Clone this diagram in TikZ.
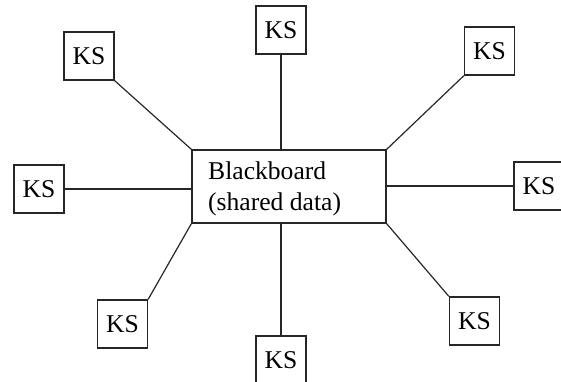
\documentclass[tikz,border=0pt]{standalone}
\usepackage{fontspec}
\setmainfont{Liberation Serif}
\begin{document}
\begin{tikzpicture}[x=1pt,y=-1pt,
  ksbox/.style={draw=black!85, line width=1.3pt, rectangle, minimum width=50pt, minimum height=48pt, inner sep=0pt, font=\fontsize{25.6}{30.7}\selectfont},
  bbbox/.style={draw=black!85, line width=1.3pt, rectangle, minimum width=194pt, minimum height=73pt, inner sep=0pt},
  bbtext/.style={anchor=base west, inner sep=0pt, font=\fontsize{25.6}{30.7}\selectfont},
  link/.style={draw=black!85, line width=1.2pt}]
\useasboundingbox (0,0) rectangle (561,381);
\node[bbbox] (bb) at (289,186.5) {};
\node[bbtext] (bb1) at (208,179) {Blackboard};
\node[bbtext] (bb2) at (208,210) {(shared data)};
\node[ksbox] (k1) at (89,56) {KS};
\node[ksbox] (k2) at (281,30) {KS};
\node[ksbox] (k3) at (489.5,51) {KS};
\node[ksbox] (k4) at (39,189) {KS};
\node[ksbox] (k5) at (539,186) {KS};
\node[ksbox] (k6) at (122.5,324) {KS};
\node[ksbox] (k7) at (281,360) {KS};
\node[ksbox] (k8) at (474.5,321) {KS};
\draw[link] (k1.south east) -- (bb.north west);
\draw[link] (k2.south) -- (bb.north -| k2.south);
\draw[link] (k3.south west) -- (bb.north east);
\draw[link] (k4.east) -- (bb.west |- k4.east);
\draw[link] (k5.west) -- (bb.east |- k5.west);
\draw[link] (k6.north east) -- (bb.south west);
\draw[link] (k7.north) -- (bb.south -| k7.north);
\draw[link] (k8.north west) -- (bb.south east);
\end{tikzpicture}
\end{document}
